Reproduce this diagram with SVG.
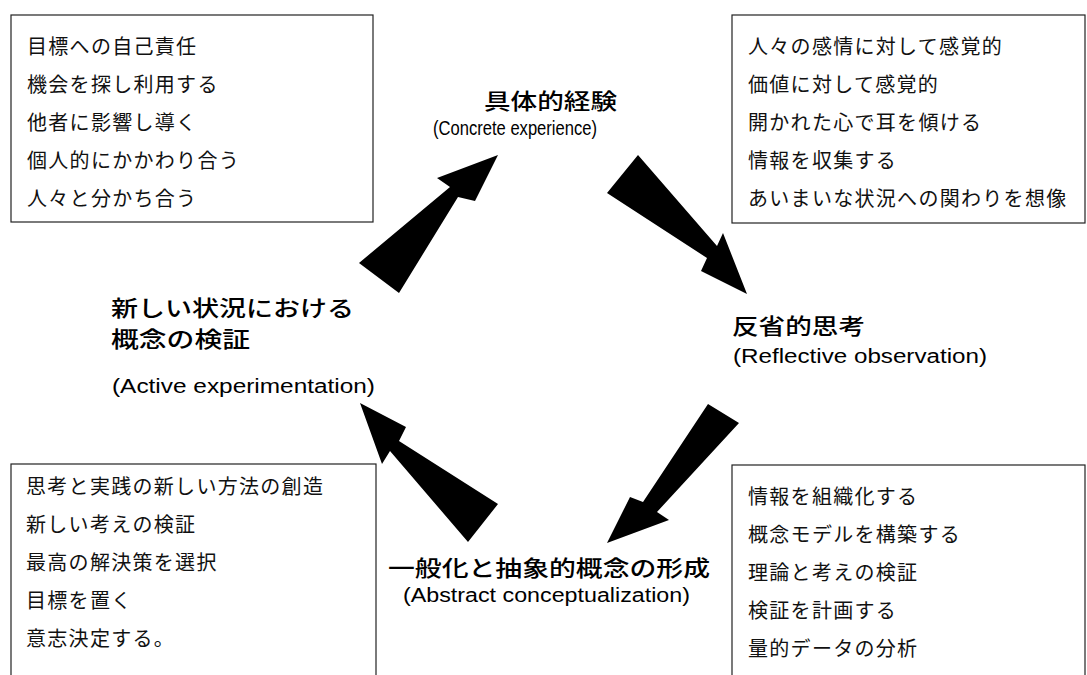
<svg xmlns="http://www.w3.org/2000/svg" width="1087" height="675" viewBox="0 0 1087 675">
<style>
.box{fill:#fff;stroke:#222;stroke-width:1.2}
.item{font-family:"Noto Sans CJK JP",sans-serif;font-size:20px;letter-spacing:1.3px;fill:#111}
.jp{font-family:"Noto Sans CJK JP",sans-serif;font-size:22px;font-weight:500;fill:#000}
.en{font-family:"Liberation Sans",Arial,sans-serif;font-size:20px;fill:#000}
.arrow{fill:#000;stroke:none}
</style>
<rect width="1087" height="675" fill="#fff"/>
<g id="box-tl">
<rect class="box" x="11" y="15" width="362" height="207"/>
<text class="item" x="27" y="54">目標への自己責任</text>
<text class="item" x="27" y="92">機会を探し利用する</text>
<text class="item" x="27" y="130">他者に影響し導く</text>
<text class="item" x="27" y="168">個人的にかかわり合う</text>
<text class="item" x="27" y="206">人々と分かち合う</text>
</g>
<g id="box-tr">
<rect class="box" x="732" y="15" width="353" height="208"/>
<text class="item" x="748" y="54">人々の感情に対して感覚的</text>
<text class="item" x="748" y="92">価値に対して感覚的</text>
<text class="item" x="748" y="130">開かれた心で耳を傾ける</text>
<text class="item" x="748" y="168">情報を収集する</text>
<text class="item" x="748" y="206">あいまいな状況への関わりを想像</text>
</g>
<g id="box-bl">
<rect class="box" x="11" y="464" width="365" height="240"/>
<text class="item" x="26" y="494">思考と実践の新しい方法の創造</text>
<text class="item" x="26" y="532">新しい考えの検証</text>
<text class="item" x="26" y="570">最高の解決策を選択</text>
<text class="item" x="26" y="608">目標を置く</text>
<text class="item" x="26" y="646">意志決定する。</text>
</g>
<g id="box-br">
<rect class="box" x="732" y="465" width="353" height="240"/>
<text class="item" x="748" y="504">情報を組織化する</text>
<text class="item" x="748" y="542">概念モデルを構築する</text>
<text class="item" x="748" y="580">理論と考えの検証</text>
<text class="item" x="748" y="618">検証を計画する</text>
<text class="item" x="748" y="656">量的データの分析</text>
</g>
<g id="label-concrete">
<text class="jp" x="484" y="109" textLength="133" lengthAdjust="spacingAndGlyphs">具体的経験</text>
<text class="en" x="433" y="135" font-size="19" textLength="164" lengthAdjust="spacingAndGlyphs">(Concrete experience)</text>
</g>
<g id="label-reflective">
<text class="jp" x="732" y="334" textLength="133" lengthAdjust="spacingAndGlyphs">反省的思考</text>
<text class="en" x="733" y="363" textLength="254" lengthAdjust="spacingAndGlyphs">(Reflective observation)</text>
</g>
<g id="label-abstract">
<text class="jp" x="388" y="576" textLength="322" lengthAdjust="spacingAndGlyphs">一般化と抽象的概念の形成</text>
<text class="en" x="403" y="602" textLength="287" lengthAdjust="spacingAndGlyphs">(Abstract conceptualization)</text>
</g>
<g id="label-active">
<text class="jp" x="111" y="316" font-size="21" textLength="243" lengthAdjust="spacingAndGlyphs">新しい状況における</text>
<text class="jp" x="111" y="347" font-size="21" textLength="139" lengthAdjust="spacingAndGlyphs">概念の検証</text>
<text class="en" x="112" y="393" textLength="263" lengthAdjust="spacingAndGlyphs">(Active experimentation)</text>
</g>
<g id="connectors">
<polygon class="arrow" points="498,155 475,201 458,197 399,293 359,263 450,187 437,178"/>
<polygon class="arrow" points="638,155 717,246 723,233 747,294 701,271 707,258 607,193"/>
<polygon class="arrow" points="708,404 739,423 657,512 669,520 607,543 630,497 643,502"/>
<polygon class="arrow" points="360,403 406,427 399,441 498,504 468,542 390,451 382,464"/>
</g>
</svg>
